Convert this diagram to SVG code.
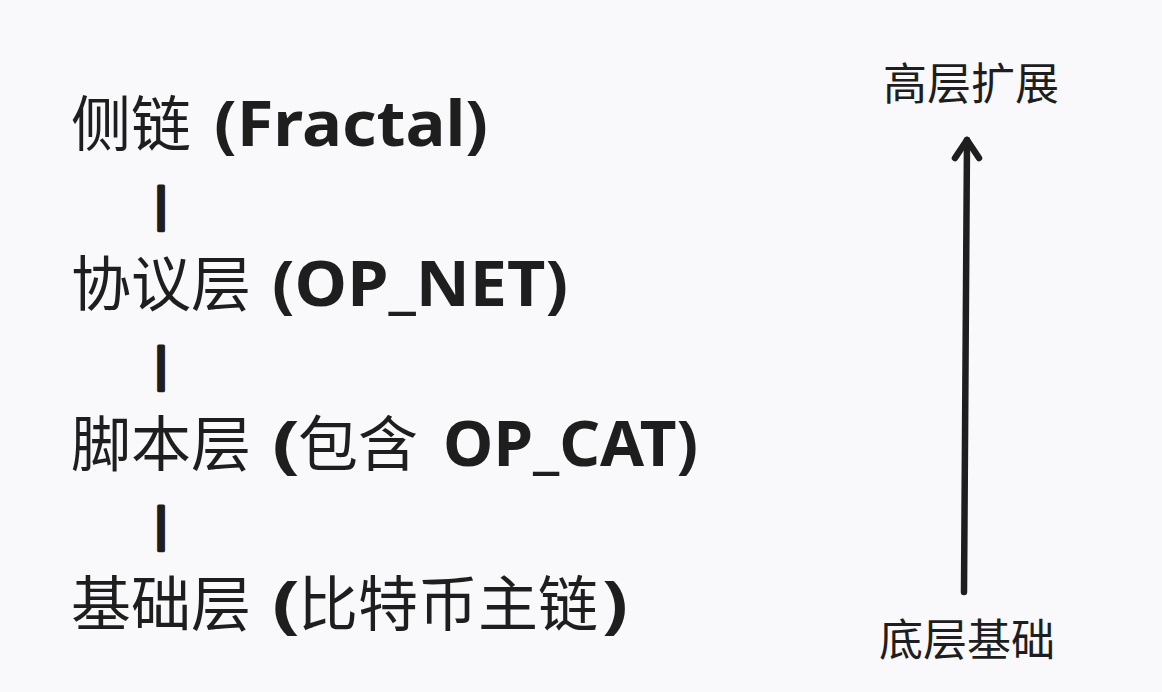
<svg xmlns="http://www.w3.org/2000/svg" width="1162" height="692" viewBox="0 0 1162 692">
  <defs>
    <style>
      .cjk { font-family: "Noto Sans CJK SC", "Noto Sans", sans-serif; font-size: 60px; fill: #1e1e1e; }
      .lat { font-family: "Noto Sans", "Liberation Sans", sans-serif; font-weight: bold; font-size: 62px; fill: #1e1e1e; }
      .bar { font-family: "DejaVu Sans", sans-serif; font-weight: bold; font-size: 44px; fill: #1e1e1e; stroke: #1e1e1e; stroke-width: 3; stroke-linejoin: round; text-anchor: middle; }
      .side { font-family: "Noto Sans CJK SC", "Noto Sans", sans-serif; font-size: 44px; fill: #1e1e1e; text-anchor: middle; }
    </style>
  </defs>
  <rect width="1162" height="692" fill="#f9f9fb"/>

  <g id="layer-sidechain">
    <text class="cjk" x="71" y="146">侧链 <tspan class="lat" x="214" textLength="274" lengthAdjust="spacingAndGlyphs">(Fractal)</tspan></text>
  </g>
  <g id="layer-protocol">
    <text class="cjk" x="71" y="306">协议层 <tspan class="lat" x="272" textLength="296" lengthAdjust="spacingAndGlyphs">(OP_NET)</tspan></text>
  </g>
  <g id="layer-script">
    <text class="cjk" x="71" y="466">脚本层 <tspan class="lat" x="272" textLength="28" lengthAdjust="spacingAndGlyphs">(</tspan><tspan x="298">包含</tspan><tspan class="lat" x="443" textLength="255" lengthAdjust="spacingAndGlyphs">OP_CAT)</tspan></text>
  </g>
  <g id="layer-base">
    <text class="cjk" x="71" y="626">基础层 <tspan class="lat" x="272" textLength="28" lengthAdjust="spacingAndGlyphs">(</tspan><tspan x="298">比特币主链</tspan><tspan class="lat" x="602" textLength="26" lengthAdjust="spacingAndGlyphs">)</tspan></text>
  </g>

  <g id="connectors">
    <text class="bar" x="161" y="220">|</text>
    <text class="bar" x="161" y="380">|</text>
    <text class="bar" x="161" y="540">|</text>
    <path d="M964 592 L967 140" fill="none" stroke="#1e1e1e" stroke-width="6.5" stroke-linecap="round"/>
    <path d="M955 158 L967 140 L979 158" fill="none" stroke="#1e1e1e" stroke-width="6.5" stroke-linecap="round" stroke-linejoin="round"/>
  </g>

  <g id="label-top">
    <text class="side" x="971" y="100">高层扩展</text>
  </g>
  <g id="label-bottom">
    <text class="side" x="967" y="656">底层基础</text>
  </g>
</svg>
